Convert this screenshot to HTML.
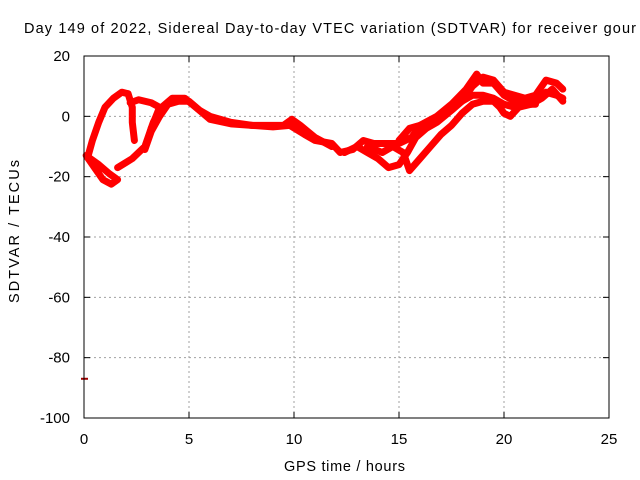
<!DOCTYPE html>
<html><head><meta charset="utf-8"><style>
body{margin:0;background:#fff;}
svg{display:block;font-family:"Liberation Sans",sans-serif;}
</style></head><body>
<svg id="chart" width="640" height="480">
<rect width="640" height="480" fill="#fff"/>
<text x="24" y="33" font-size="14.5" textLength="612" lengthAdjust="spacing">Day 149 of 2022, Sidereal Day-to-day VTEC variation (SDTVAR) for receiver gour</text>
<g id="grid"></g><g id="series"></g><g id="axes"></g>
<text x="284" y="471" font-size="14.5" textLength="121" lengthAdjust="spacing">GPS time / hours</text>
<text transform="translate(19,303) rotate(-90)" font-size="14.5" textLength="143" lengthAdjust="spacing">SDTVAR / TECUs</text>
</svg>
<script>
const xTicks=[0,5,10,15,20,25];
const yTicks=[20,0,-20,-40,-60,-80,-100];
const trace1=[[0.2,-13],[0.4,-8],[0.7,-2],[1.0,3],[1.4,6],[1.8,8],[2.1,7.5],[2.3,3],[2.3,-2],[2.4,-8]];
const trace2=[[0.1,-13],[0.5,-17],[0.9,-21],[1.3,-22.5],[1.6,-21],[1.2,-19],[0.7,-16],[0.3,-14]];
const trace3=[[1.6,-17],[2.3,-14],[2.9,-10],[3.3,-2],[3.7,3],[4.2,6],[4.8,6],[5.5,2],[6,-1],[7,-2.5],[8,-3],[9,-3.5],[9.8,-3],[10.5,-6],[11,-8],[11.8,-9],[12.2,-12],[12.8,-11],[13.3,-8],[13.8,-9],[14.3,-9],[15,-9],[15.6,-7],[16,-3],[16.5,-2],[17,0],[17.5,3],[18,5],[18.5,7],[19,7],[19.5,6],[20,4],[20.5,3],[21,4],[21.5,5],[22,8],[22.5,7],[22.8,6]];
const trace4=[[2.2,4.5],[2.6,5.5],[3.2,4.5],[3.6,3],[3.2,-4],[2.9,-11],[3.2,-5],[3.6,0],[4,4],[4.5,5],[5,5],[5.5,2],[6,0],[7,-2],[8,-3],[9.5,-3],[9.9,-1],[10.3,-3],[11,-7],[11.8,-10]];
const trace5=[[12.4,-12],[13,-10],[13.5,-12],[14,-14],[14.5,-17],[15,-16],[15.4,-12],[15.8,-7],[16.3,-4],[16.8,-2],[17.5,2],[18,5],[18.5,10],[19,13],[19.5,12],[20,8],[20.5,7],[21,6],[21.5,7],[22,12],[22.5,11],[22.8,9]];
const trace6=[[13.5,-10],[14.2,-12],[14.7,-10],[15.2,-12],[15.5,-18],[16,-14],[16.5,-10],[17,-6],[17.5,-3],[18,1],[18.5,4],[19,5],[19.5,5],[19.8,3],[20,1],[20.3,0],[20.7,3],[21.3,4],[21.8,6],[22.3,9],[22.8,5]];
const trace7=[[15,-8],[15.5,-4],[16,-3],[16.8,0],[17.5,4],[18.2,9],[18.7,14],[19,11],[19.5,11],[20,7],[20.5,5],[21,4],[21.5,4]];
const outlier=[[0,-87]];
const traces=[trace1,trace2,trace3,trace4,trace5,trace6,trace7];
const X0=84,X1=609,Y0=418,Y1=56;
const sx=v=>X0+(v-0)/25*(X1-X0);
const sy=v=>Y0-(v+100)/120*(Y0-Y1);
const NS="http://www.w3.org/2000/svg";
function mk(t,a,p){const e=document.createElementNS(NS,t);for(const k in a)e.setAttribute(k,a[k]);p.appendChild(e);return e;}
const grid=document.getElementById('grid'),axes=document.getElementById('axes'),ser=document.getElementById('series');
xTicks.forEach(t=>{
 if(t>0&&t<25){const g=mk('line',{x1:sx(t),x2:sx(t),y1:Y1,y2:Y0,stroke:'#a0a0a0','stroke-dasharray':'2,3'},grid);
 
 }
 const l=mk('text',{x:sx(t),y:Y0+26,'font-size':15,'text-anchor':'middle'},axes);l.textContent=t;
 
 
 mk('line',{x1:sx(t),x2:sx(t),y1:Y0,y2:Y0-6,stroke:'#000'},axes);
 mk('line',{x1:sx(t),x2:sx(t),y1:Y1,y2:Y1+6,stroke:'#000'},axes);
});
yTicks.forEach(t=>{
 if(t>-100&&t<20){const g=mk('line',{x1:X0,x2:X1,y1:sy(t),y2:sy(t),stroke:'#a0a0a0','stroke-dasharray':'2,3'},grid);
 
 }
 const l=mk('text',{x:X0-14,y:sy(t)+5,'font-size':15,'text-anchor':'end'},axes);l.textContent=t;
 
 
 mk('line',{x1:X0,x2:X0+6,y1:sy(t),y2:sy(t),stroke:'#000'},axes);
 mk('line',{x1:X1,x2:X1-6,y1:sy(t),y2:sy(t),stroke:'#000'},axes);
});
const fr=mk('rect',{x:X0,y:Y1,width:X1-X0,height:Y0-Y1,fill:'none',stroke:'#000'},axes);


traces.forEach(tr=>{
 const p=mk('polyline',{points:tr.map(d=>sx(d[0])+','+sy(d[1])).join(' '),fill:'none',stroke:'#ff0000','stroke-width':7,'stroke-linejoin':'round','stroke-linecap':'round'},ser);
 
 
});
outlier.forEach(d=>{
 const o=mk('line',{x1:sx(d[0])-3,x2:sx(d[0])+4,y1:sy(d[1]),y2:sy(d[1]),stroke:'#a00000','stroke-width':2},ser);
 
 
});
</script>
</body></html>
